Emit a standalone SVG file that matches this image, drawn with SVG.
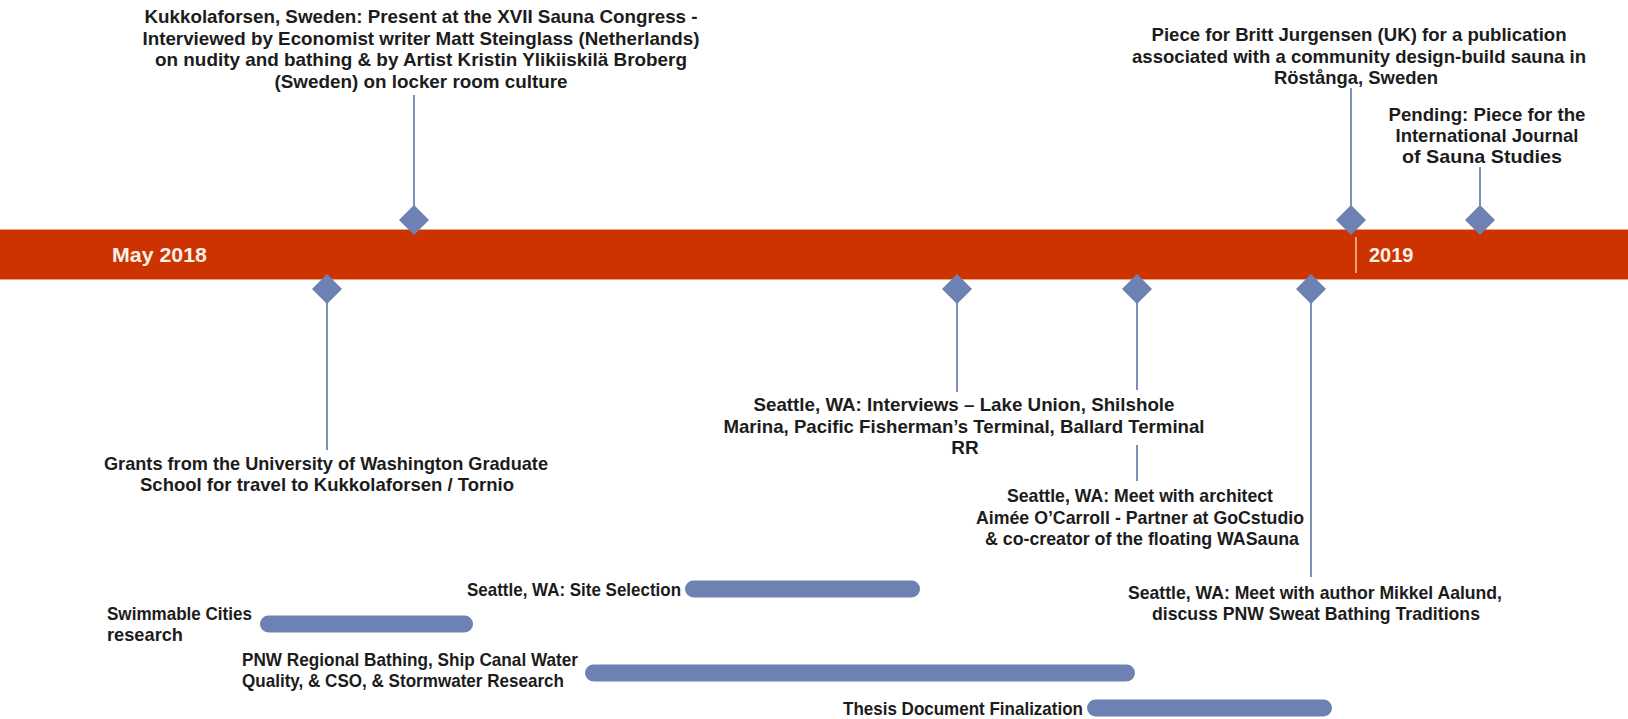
<svg xmlns="http://www.w3.org/2000/svg" width="1628" height="719" viewBox="0 0 1628 719">
<style>
text{font-family:"Liberation Sans",Arial,sans-serif;font-weight:bold;font-size:19px;fill:#1c1c1c}
.c{text-anchor:middle}
.e{text-anchor:end}
.yr{fill:#fdf1e8;font-size:20px}
.dia{fill:#6d82b2}
.bar{fill:#6d82b2}
.con{stroke:#7d90b8;stroke-width:2;fill:none}
</style>
<rect width="1628" height="719" fill="#ffffff"/>
<g id="timeline">
<rect x="0" y="229" width="1628" height="51" fill="#cc3300"/>
<line x1="0" y1="229.5" x2="1628" y2="229.5" stroke="#f0a27a" stroke-width="1"/>
<line x1="0" y1="279.5" x2="1628" y2="279.5" stroke="#f0a27a" stroke-width="1"/>
<line x1="1356" y1="237" x2="1356" y2="273" stroke="#f2a070" stroke-width="2"/>
<text class="yr" x="112" y="262" textLength="95" lengthAdjust="spacingAndGlyphs">May  2018</text>
<text class="yr" x="1369" y="262">2019</text>
</g>
<g id="connectors">
<line class="con" x1="414" y1="95" x2="414" y2="206"/>
<line class="con" x1="1351" y1="88" x2="1351" y2="206"/>
<line class="con" x1="1480" y1="167" x2="1480" y2="206"/>
<line class="con" x1="327" y1="303" x2="327" y2="450"/>
<line class="con" x1="957" y1="303" x2="957" y2="392"/>
<line class="con" x1="1137" y1="303" x2="1137" y2="390"/>
<line class="con" x1="1137" y1="445" x2="1137" y2="481"/>
<line class="con" x1="1311" y1="303" x2="1311" y2="577"/>
</g>
<g id="kukkolaforsen">
<path class="dia" d="M414 205 L429 220 L414 235 L399 220 Z"/>
<text class="c" x="421" y="23" textLength="553" lengthAdjust="spacingAndGlyphs">Kukkolaforsen, Sweden: Present at the XVII Sauna Congress -</text>
<text class="c" x="421" y="44.5" textLength="557" lengthAdjust="spacingAndGlyphs">Interviewed by Economist writer Matt Steinglass (Netherlands)</text>
<text class="c" x="421" y="66" textLength="532" lengthAdjust="spacingAndGlyphs">on nudity and bathing &amp; by Artist Kristin Ylikiiskilä Broberg</text>
<text class="c" x="421" y="87.5" textLength="293" lengthAdjust="spacingAndGlyphs">(Sweden) on locker room culture</text>
</g>
<g id="britt">
<path class="dia" d="M1351 205 L1366 220 L1351 235 L1336 220 Z"/>
<text class="c" x="1359" y="41" textLength="415" lengthAdjust="spacingAndGlyphs">Piece for Britt Jurgensen (UK) for a publication</text>
<text class="c" x="1359" y="63" textLength="454" lengthAdjust="spacingAndGlyphs">associated with a community design-build sauna in</text>
<text class="c" x="1356" y="84" textLength="164" lengthAdjust="spacingAndGlyphs">Röstånga, Sweden</text>
</g>
<g id="pending">
<path class="dia" d="M1480 205 L1495 220 L1480 235 L1465 220 Z"/>
<text class="c" x="1487" y="121" textLength="197" lengthAdjust="spacingAndGlyphs">Pending: Piece for the</text>
<text class="c" x="1487" y="142" textLength="183" lengthAdjust="spacingAndGlyphs">International Journal</text>
<text class="c" x="1482" y="163" textLength="160" lengthAdjust="spacingAndGlyphs">of Sauna Studies</text>
</g>
<g id="grants">
<path class="dia" d="M327 274 L342 289 L327 304 L312 289 Z"/>
<text class="c" x="326" y="470" textLength="444" lengthAdjust="spacingAndGlyphs">Grants from the University of Washington Graduate</text>
<text class="c" x="327" y="491" textLength="374" lengthAdjust="spacingAndGlyphs">School for travel to Kukkolaforsen / Tornio</text>
</g>
<g id="interviews">
<path class="dia" d="M957 274 L972 289 L957 304 L942 289 Z"/>
<text class="c" x="964" y="411" textLength="421" lengthAdjust="spacingAndGlyphs">Seattle, WA: Interviews – Lake Union, Shilshole</text>
<text class="c" x="964" y="432.5" textLength="481" lengthAdjust="spacingAndGlyphs">Marina, Pacific Fisherman’s Terminal, Ballard Terminal</text>
<text class="c" x="965" y="454">RR</text>
</g>
<g id="architect">
<path class="dia" d="M1137 274 L1152 289 L1137 304 L1122 289 Z"/>
<text class="c" x="1140" y="502" textLength="266" lengthAdjust="spacingAndGlyphs">Seattle, WA: Meet with architect</text>
<text class="c" x="1140" y="524" textLength="328" lengthAdjust="spacingAndGlyphs">Aimée O’Carroll - Partner at GoCstudio</text>
<text class="c" x="1142" y="545" textLength="314" lengthAdjust="spacingAndGlyphs">&amp; co-creator of the floating WASauna</text>
</g>
<g id="mikkel">
<path class="dia" d="M1311 274 L1326 289 L1311 304 L1296 289 Z"/>
<text class="c" x="1315" y="599" textLength="374" lengthAdjust="spacingAndGlyphs">Seattle, WA: Meet with author Mikkel Aalund,</text>
<text class="c" x="1316" y="620" textLength="328" lengthAdjust="spacingAndGlyphs">discuss PNW Sweat Bathing Traditions</text>
</g>
<g id="site-selection">
<rect class="bar" x="685" y="580.5" width="235" height="17" rx="8.5"/>
<text class="e" x="681" y="595.5" textLength="214" lengthAdjust="spacingAndGlyphs">Seattle, WA: Site Selection</text>
</g>
<g id="swimmable">
<rect class="bar" x="260" y="615.5" width="213" height="17" rx="8.5"/>
<text x="107" y="620" textLength="145" lengthAdjust="spacingAndGlyphs">Swimmable Cities</text>
<text x="107" y="641" textLength="76" lengthAdjust="spacingAndGlyphs">research</text>
</g>
<g id="pnw">
<rect class="bar" x="585" y="664.5" width="550" height="17" rx="8.5"/>
<text x="242" y="666" textLength="336" lengthAdjust="spacingAndGlyphs">PNW Regional Bathing, Ship Canal Water</text>
<text x="242" y="687" textLength="322" lengthAdjust="spacingAndGlyphs">Quality, &amp; CSO, &amp; Stormwater Research</text>
</g>
<g id="thesis">
<rect class="bar" x="1087" y="699.5" width="245" height="17" rx="8.5"/>
<text class="e" x="1083" y="714.5" textLength="240" lengthAdjust="spacingAndGlyphs">Thesis Document Finalization</text>
</g>
</svg>
